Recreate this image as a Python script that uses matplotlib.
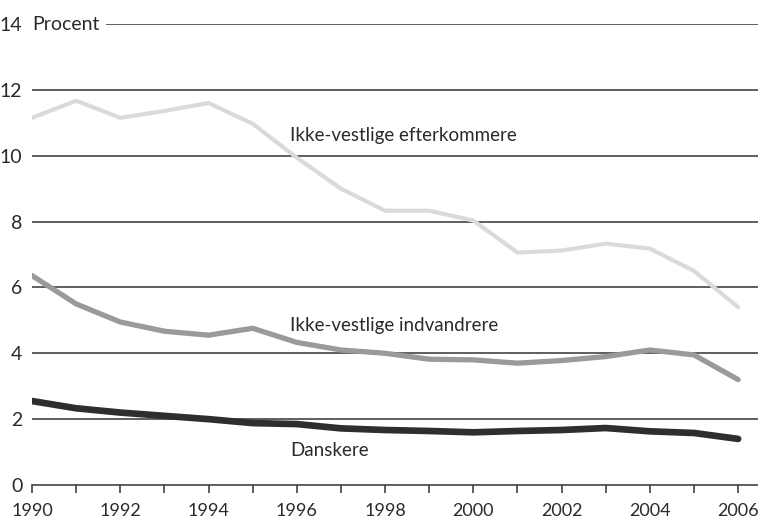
import matplotlib
matplotlib.use("Agg")
import matplotlib.pyplot as plt

years = list(range(1990, 2007))
efterkommere = [11.15, 11.67, 11.15, 11.36, 11.6, 10.97, 9.94, 9.0, 8.33, 8.33, 8.03, 7.06, 7.12, 7.33, 7.18, 6.5, 5.4]
indvandrere = [6.36, 5.5, 4.95, 4.67, 4.55, 4.76, 4.33, 4.1, 4.0, 3.82, 3.8, 3.7, 3.78, 3.9, 4.1, 3.95, 3.2]
danskere = [2.55, 2.33, 2.2, 2.1, 2.0, 1.88, 1.85, 1.72, 1.67, 1.64, 1.6, 1.64, 1.67, 1.73, 1.63, 1.58, 1.4]
yticks = [0, 2, 4, 6, 8, 10, 12, 14]
xlabels = [1990, 1992, 1994, 1996, 1998, 2000, 2002, 2004, 2006]

plt.rcParams['font.family'] = ['Lato', 'DejaVu Sans']

fig = plt.figure(figsize=(7.58, 5.2), dpi=100)
ax = fig.add_axes([32/758, 35/520, 1 - 32/758, (485-24)/520])
ax.set_xlim(1990, 2006.45)
ax.set_ylim(0, 14)

for y in yticks[1:]:
    ax.axhline(y, color='#333333', lw=1.1, zorder=1)

ax.plot(years, efterkommere, color='#dadada', lw=3.0, zorder=3, solid_capstyle='round')
ax.plot(years, indvandrere, color='#9a9a9a', lw=3.8, zorder=3, solid_capstyle='round')
ax.plot(years, danskere, color='#2e2e2e', lw=4.8, zorder=3, solid_capstyle='round')

ax.text(1995.85, 10.6, 'Ikke-vestlige efterkommere', fontsize=13.5, color='#2a2a2a', va='center', ha='left')
ax.text(1995.85, 4.85, 'Ikke-vestlige indvandrere', fontsize=13.5, color='#2a2a2a', va='center', ha='left')
ax.text(1995.85, 1.05, 'Danskere', fontsize=13.5, color='#2a2a2a', va='center', ha='left')
ax.text(1990.0, 14, 'Procent', fontsize=14, color='#2a2a2a', va='center', ha='left', zorder=5,
        bbox=dict(facecolor='white', edgecolor='none', pad=5))

for s in ['left', 'right', 'top']:
    ax.spines[s].set_visible(False)
ax.spines['bottom'].set_color('#333333')
ax.spines['bottom'].set_linewidth(1.1)

ax.set_yticks(yticks)
ax.set_yticklabels([str(v) for v in yticks], fontsize=14, color='#2a2a2a')
ax.tick_params(axis='y', length=0, pad=7)
ax.set_xticks(years, minor=True)
ax.set_xticks(xlabels)
ax.set_xticklabels([str(v) for v in xlabels], fontsize=13, color='#2a2a2a')
ax.tick_params(axis='x', which='both', length=6, width=1.1, color='#333333', direction='out', pad=7)

fig.savefig('out.png', dpi=100)
